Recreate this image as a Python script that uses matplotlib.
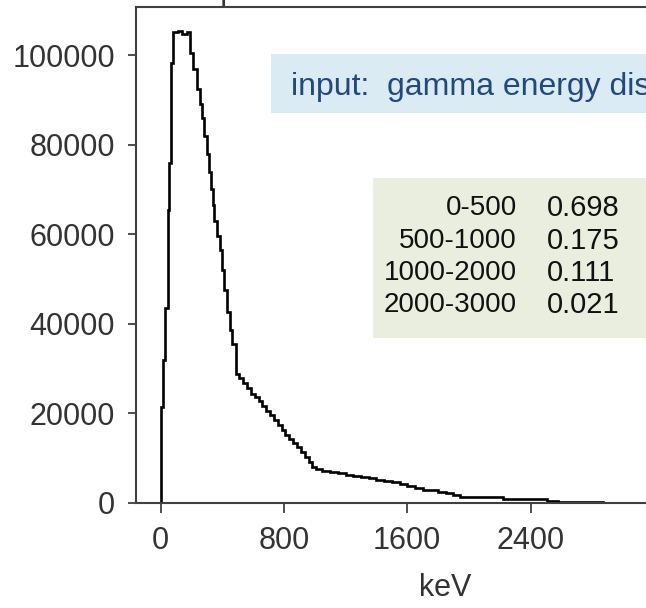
import matplotlib
matplotlib.use('Agg')
import matplotlib.pyplot as plt
from matplotlib.patches import Rectangle

# step spectrum: bin edges (keV) and counts per bin
edges = [0, 15, 30, 47, 55, 70, 78, 110, 140, 170, 193, 210, 234, 254, 267, 280,
         299, 312, 325, 338, 346, 366, 384, 398, 410, 431, 449, 466, 486,
         510, 535, 560, 585, 610, 635, 660, 685, 710, 735, 760, 785, 810, 835,
         860, 885, 910, 935, 960, 985, 1010, 1050, 1100, 1150, 1200, 1250,
         1300, 1350, 1400, 1450, 1500, 1550, 1600, 1650, 1700, 1750, 1800,
         1850, 1900, 1940, 2220, 2510, 2580, 2870]
counts = [21400, 31900, 43500, 65400, 75900, 98300, 105200, 105500, 104700,
          105200, 100500, 97000, 92500, 89000, 86000, 82000, 78000, 74000,
          70000, 66500, 63000, 59500, 56500, 52000, 47500, 42500, 38500, 35500,
          28800, 27800, 26700, 25700, 24300, 23500, 22700, 21600, 20400, 19500,
          18400, 17300, 16200, 15100, 14200, 13300, 12400, 11200, 10100, 9000,
          8000, 7500, 7100, 6800, 6500, 6100, 5900, 5700, 5500, 5100, 4700,
          4500, 4200, 3700, 3200, 2900, 2700, 2400, 2100, 1700, 1300, 750, 400,
          200]

x_ticks = [0, 800, 1600, 2400]
y_ticks = [0, 20000, 40000, 60000, 80000, 100000]

ranges = ['0-500', '500-1000', '1000-2000', '2000-3000']
fractions = ['0.698', '0.175', '0.111', '0.021']

plt.rcParams['font.family'] = ['Liberation Sans', 'DejaVu Sans']

W, H = 646, 608
fig = plt.figure(figsize=(W / 100, H / 100), dpi=100)
ax = fig.add_axes([136 / W, (H - 502.5) / H, (754 - 136) / W, (502.5 - 7) / H])

ax.stairs(counts, edges, baseline=0, color='black', lw=1.9)

ax.set_xlim(-160, 3850)
ax.set_ylim(0, 110800)
ax.set_xticks(x_ticks)
ax.set_yticks(y_ticks)
ax.set_xticklabels([str(v) for v in x_ticks])
ax.set_yticklabels([str(v) for v in y_ticks])

for s in ax.spines.values():
    s.set_color('#404040')
    s.set_linewidth(1.5)
ax.tick_params(axis='x', direction='out', length=7, width=1.3, color='#404040',
               pad=10, labelsize=22, labelcolor='#333333')
ax.tick_params(axis='y', direction='out', length=6, width=1.3, color='#404040',
               pad=9, labelsize=22, labelcolor='#333333')

ax.set_xlabel('keV', fontsize=22, color='#333333')
ax.xaxis.set_label_coords(0.5, -0.143)

# title, mostly cut off by the top edge
fig.text(200 / W, (H + 1) / H, 'Spec - A', ha='left', va='baseline',
         fontsize=22, color='#333333')

# blue note box
fig.patches.append(Rectangle((271 / W, (H - 113) / H), 0.7, 59 / H,
                             transform=fig.transFigure, facecolor='#DAEBF4',
                             edgecolor='none', zorder=3))
fig.text(291 / W, (H - 95) / H, 'input:  gamma energy distribution',
         ha='left', va='baseline', fontsize=23, color='#23487A', zorder=4)

# fractions table box
fig.patches.append(Rectangle((373 / W, (H - 338) / H), 0.6, 160 / H,
                             transform=fig.transFigure, facecolor='#EAEEDF',
                             edgecolor='none', zorder=3))
row_y = [208, 241, 273, 305]
for r, f, y in zip(ranges, fractions, row_y):
    fig.text(517 / W, (H - y) / H, r, ha='right', va='center', fontsize=20,
             color='#111111', zorder=4)
    fig.text(547 / W, (H - y) / H, f, ha='left', va='center', fontsize=21,
             color='#111111', zorder=4)

fig.savefig('out.png', dpi=100)
